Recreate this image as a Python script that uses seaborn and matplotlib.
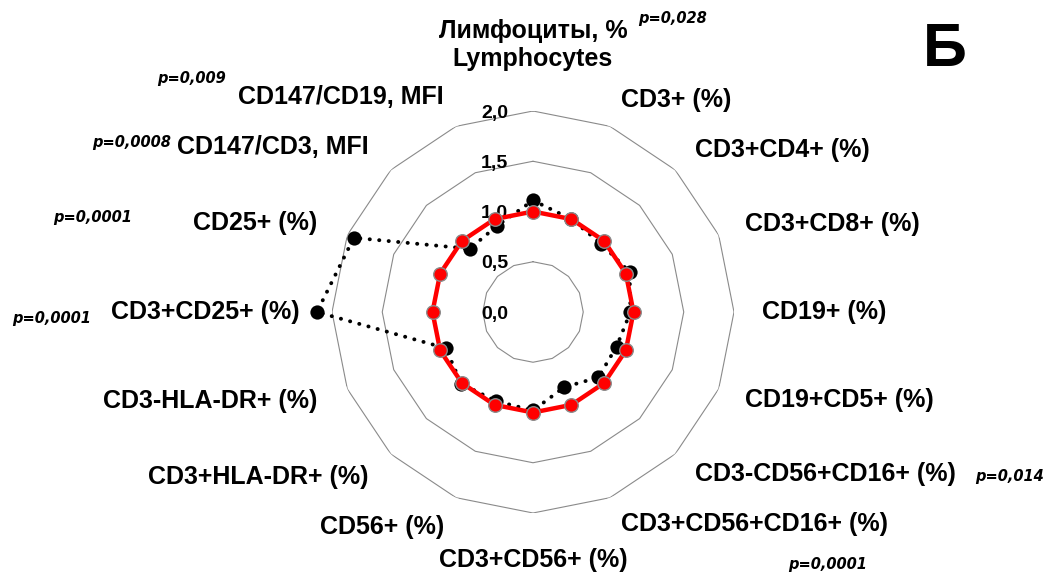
import numpy as np
import pandas as pd
import matplotlib
matplotlib.use("Agg")
import matplotlib.pyplot as plt
import seaborn as sns

# axes of the radar, clockwise from the top
categories = ["Лимфоциты, %\nLymphocytes", "CD3+ (%)", "CD3+CD4+ (%)", "CD3+CD8+ (%)",
              "CD19+ (%)", "CD19+CD5+ (%)", "CD3-CD56+CD16+ (%)", "CD3+CD56+CD16+ (%)",
              "CD3+CD56+ (%)", "CD56+ (%)", "CD3+HLA-DR+ (%)", "CD3-HLA-DR+ (%)",
              "CD3+CD25+ (%)", "CD25+ (%)", "CD147/CD3, MFI", "CD147/CD19, MFI"]
control = [1.0, 1.0, 1.0, 1.0, 1.0, 1.0, 1.0, 1.0,
           1.0, 1.0, 1.0, 1.0, 1.0, 1.0, 1.0, 1.0]
patients = [1.11, 1.0, 0.96, 1.04, 0.97, 0.90, 0.92, 0.81,
            0.98, 0.96, 1.01, 0.94, 2.15, 1.93, 0.89, 0.93]
ring_values = [0.0, 0.5, 1.0, 1.5, 2.0]
ring_labels = ["0,0", "0,5", "1,0", "1,5", "2,0"]
p_labels = ["p=0,028", "p=0,009", "p=0,0008", "p=0,0001", "p=0,0001", "p=0,014", "p=0,0001"]

sns.set_style("white")
plt.rcParams["font.family"] = ["Liberation Sans", "DejaVu Sans"]
plt.rcParams["text.color"] = "black"

W, H = 1053, 579
fig = plt.figure(figsize=(W / 100, H / 100), dpi=100)
cx, cy, R = 533, 312, 201
ax = fig.add_axes([(cx - R) / W, (H - cy - R) / H, 2 * R / W, 2 * R / H], projection="polar")
ax.set_theta_zero_location("N")
ax.set_theta_direction(-1)
ax.set_ylim(0, 2)
ax.grid(False)
ax.spines["polar"].set_visible(False)
ax.set_xticks([])
ax.set_yticks([])
ax.patch.set_alpha(0)

n = len(categories)
theta = np.arange(n) * 2 * np.pi / n
theta_closed = np.append(theta, 2 * np.pi)
df = pd.DataFrame({"theta": theta_closed,
                   "control": control + control[:1],
                   "patients": patients + patients[:1]})

# polygon rings
for r in ring_values[1:]:
    ax.plot(theta_closed, [r] * (n + 1), color="#8a8a8a", lw=0.8, zorder=1)
for r, lab in zip(ring_values, ring_labels):
    ax.annotate(lab, xy=(0, r), xytext=(-18, -1.5), textcoords="offset points",
                ha="right", va="center", fontsize=14, fontweight="bold", color="black")

sns.lineplot(data=df, x="theta", y="patients", sort=False, estimator=None, ax=ax,
             color="black", lw=2.8, linestyle=(0, (0.05, 2.4)), dash_capstyle="round",
             clip_on=False, zorder=2)
sns.scatterplot(x=theta, y=patients, ax=ax, color="black", s=105, edgecolor="black",
                linewidth=0, clip_on=False, zorder=3)
sns.lineplot(data=df, x="theta", y="control", sort=False, estimator=None, ax=ax,
             color="#ff0000", lw=3.2, clip_on=False, zorder=4)
sns.scatterplot(x=theta, y=control, ax=ax, color="#ff0000", s=95, edgecolor="#8a8a8a",
                linewidth=1, clip_on=False, zorder=5)
ax.set_xlabel("")
ax.set_ylabel("")

# category labels
for t, lab in zip(theta, categories):
    if np.isclose(t, 0):
        ax.text(t, 2.66, lab, ha="center", va="center", fontsize=18, fontweight="bold",
                multialignment="center", color="black")
    elif np.isclose(t, np.pi):
        ax.text(t, 2.47, lab, ha="center", va="center", fontsize=18, fontweight="bold",
                color="black")
    elif t < np.pi:
        ax.text(t, 2.28, lab, ha="left", va="center", fontsize=18, fontweight="bold",
                color="black")
    else:
        ax.text(t, 2.32, lab, ha="right", va="center", fontsize=18, fontweight="bold",
                color="black")

# p-values
p_pos = [(638, 18), (157, 78), (92, 142), (53, 218), (12, 318), (975, 477), (788, 565)]
for lab, (x, y) in zip(p_labels, p_pos):
    fig.text(x / W, 1 - y / H, lab, ha="left", va="center", fontsize=10.5,
             fontweight="bold", fontstyle="oblique", family="DejaVu Sans", color="black")

fig.text(923 / W, 1 - 50 / H, "Б", ha="left", va="center", fontsize=44, fontweight="bold",
         color="black")

fig.savefig("out.png", dpi=100)
